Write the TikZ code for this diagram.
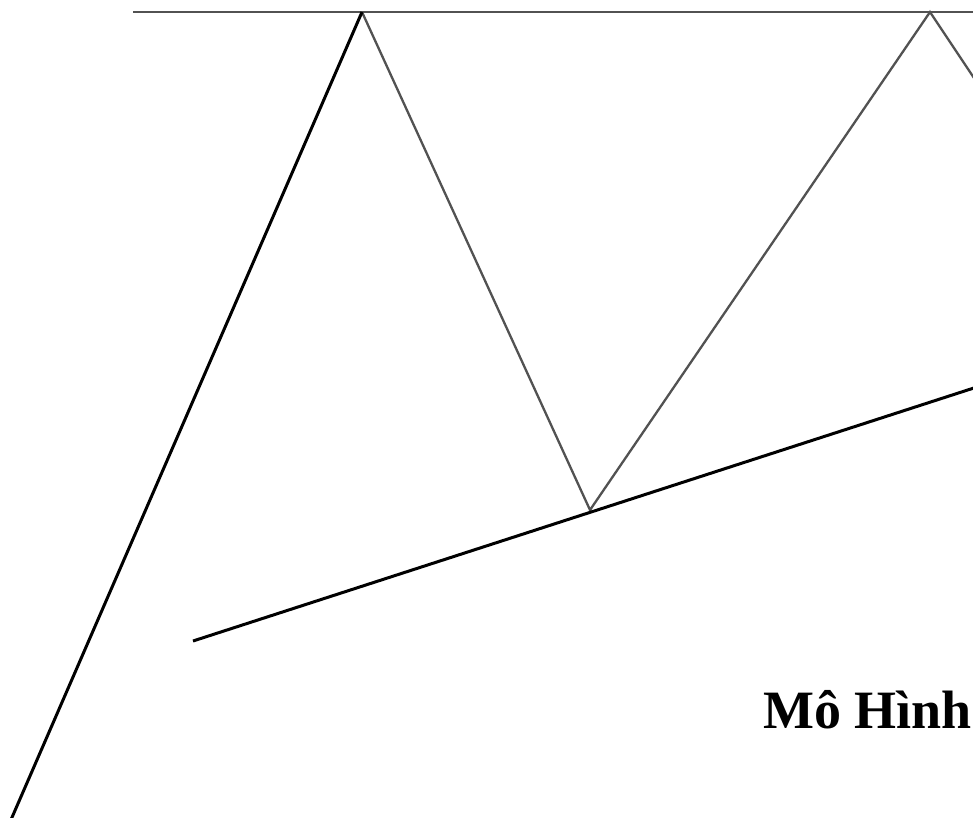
\documentclass[tikz,border=0pt]{standalone}
\usepackage{fontspec}
\setmainfont{Liberation Serif}
\begin{document}
\begin{tikzpicture}[x=1pt,y=-1pt,
  thin gray/.style={draw=black!68,line width=2.3pt,line join=miter},
  thick black/.style={draw=black,line width=3pt},
  title/.style={font=\bfseries\fontsize{54}{56}\selectfont,anchor=base west,inner sep=0pt}]
\useasboundingbox (0,0) rectangle (973,817);
\clip (0,0) rectangle (973,817);
\coordinate (TL) at (133,12);
\coordinate (TR) at (980,12);
\coordinate (P1) at (362,12);
\coordinate (T1) at (590,510);
\coordinate (P2) at (930,12);
\coordinate (D2) at (990,102);
\coordinate (B0) at (10,822);
\coordinate (S0) at (193,641);
\coordinate (S1) at (980,386);
\draw[thin gray] (TL) -- (TR);
\draw[thin gray] (P1) -- (T1) -- (P2) -- (D2);
\draw[thick black] (B0) -- (P1);
\draw[thick black] (S0) -- (S1);
\node[title] (lbl) at (763,728) {Mô Hình};
\end{tikzpicture}
\end{document}
